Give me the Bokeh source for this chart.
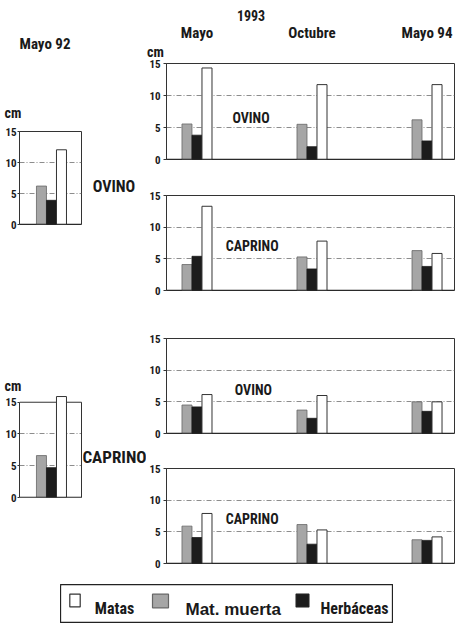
from bokeh.plotting import figure
from bokeh.layouts import column, row, Spacer
from bokeh.models import (FixedTicker, Legend, LegendItem, ColumnDataSource,
                          Span, Range1d)
from bokeh.core.properties import value
from bokeh.transform import dodge
from bokeh.embed import file_html
from bokeh.resources import INLINE

# ---------------- data ----------------
groups = ["Mayo", "Octubre", "Mayo 94"]
gx = [0, 1, 2]
year_label = "1993"
first_label = "Mayo 92"
species = ["OVINO", "CAPRINO"]

ovino_a_matas = [14.3, 11.7, 11.7]
ovino_a_muerta = [5.55, 5.5, 6.2]
ovino_a_herb = [3.8, 2.0, 2.9]

caprino_a_matas = [13.3, 7.8, 5.85]
caprino_a_muerta = [4.1, 5.3, 6.3]
caprino_a_herb = [5.4, 3.4, 3.8]

ovino_b_matas = [6.15, 6.0, 5.0]
ovino_b_muerta = [4.5, 3.7, 5.0]
ovino_b_herb = [4.2, 2.4, 3.5]

caprino_b_matas = [7.9, 5.3, 4.2]
caprino_b_muerta = [5.9, 6.15, 3.75]
caprino_b_herb = [4.1, 3.05, 3.65]

may92_ovino_matas = [12.05]
may92_ovino_muerta = [6.2]
may92_ovino_herb = [3.9]

may92_caprino_matas = [15.9]
may92_caprino_muerta = [6.6]
may92_caprino_herb = [4.7]

yticks = [0, 5, 10, 15]
legend_labels = ["Matas", "Mat. muerta", "Herbáceas"]

# ---------------- style ----------------
FONT = "Roboto Condensed"
FONT2 = "Liberation Sans"
GRAY = "#a6a6a6"
BLACK = "#1c1c1c"
EDGE = "#333333"
TXT = "#1a1a1a"
BW = 0.087


def base_fig(width, height, xr, yr, bl, br, bt, bb, outline=True, tick_out=3,
             standoff=3):
    p = figure(width=width, height=height, x_range=xr, y_range=yr,
               output_backend="svg", toolbar_location=None,
               min_border_left=bl, min_border_right=br,
               min_border_top=bt, min_border_bottom=bb)
    p.xaxis.visible = False
    p.xgrid.visible = False
    p.ygrid.ticker = FixedTicker(ticks=[5, 10])
    p.ygrid.grid_line_color = "#808080"
    p.ygrid.grid_line_dash = "5 2 1 2"
    p.ygrid.grid_line_width = 0.9
    ax = p.yaxis[0]
    ax.ticker = FixedTicker(ticks=yticks)
    ax.major_label_text_font = FONT
    ax.major_label_text_font_style = "bold"
    ax.major_label_text_font_size = "11px"
    ax.major_label_text_color = TXT
    ax.major_tick_in = 0
    ax.major_tick_out = tick_out
    ax.major_tick_line_color = EDGE
    ax.minor_tick_line_color = None
    ax.major_label_standoff = standoff
    ax.axis_line_color = EDGE
    if outline:
        p.outline_line_color = EDGE
        p.outline_line_width = 1
        p.outline_line_alpha = 1
    else:
        p.outline_line_color = None
    p.add_layout(Span(location=0, dimension="width", line_color="#222222",
                      line_width=1.6))
    return p


def bars(p, x, muerta, herb, matas):
    src = ColumnDataSource(dict(x=x, muerta=muerta, herb=herb, matas=matas))
    p.vbar(x=dodge("x", -BW, range=None), top="muerta", width=BW, source=src,
           fill_color=GRAY, line_color="#666666", line_width=0.8)
    p.vbar(x=dodge("x", 0, range=None), top="herb", width=BW, source=src,
           fill_color=BLACK, line_color=BLACK, line_width=0.8)
    p.vbar(x=dodge("x", BW, range=None), top="matas", width=BW, source=src,
           fill_color="white", line_color=EDGE, line_width=1)


def text_fig(width, height, xr, yr):
    p = figure(width=width, height=height, x_range=xr, y_range=yr,
               output_backend="svg", toolbar_location=None, min_border=0,
               frame_align=False)
    p.axis.visible = False
    p.grid.visible = False
    p.outline_line_color = None
    return p


def put_text(p, xs, ys, texts, size, font=FONT, align="center"):
    p.text(x=xs, y=ys, text=texts, text_font=value(font), text_font_style="bold",
           text_font_size=size, text_align=align, text_baseline="middle",
           text_color=TXT)


def panel_label(p, x, y, text, size="14px"):
    put_text(p, [x], [y], [text], size)


# ---------------- right column (x 146..463) ----------------
RW = 317
RX0, RX1 = -0.265, 2.239          # frame 166..454 px, 115 px per group
rx = Range1d(RX0, RX1)

rhead = text_fig(RW, 58, Range1d(-0.4391, 2.3174), Range1d(58, 0))
put_text(rhead, [0.47], [15], [year_label], "14px")
put_text(rhead, gx, [32] * len(gx), groups, "15px")
put_text(rhead, [-0.361], [51], ["cm"], "14px")

r1 = base_fig(RW, 119, rx, Range1d(0, 15), 20, 9, 5, 18)
bars(r1, gx, ovino_a_muerta, ovino_a_herb, ovino_a_matas)
panel_label(r1, 0.47, 6.55, species[0])

r2 = base_fig(RW, 143, rx, Range1d(0, 15), 20, 9, 18, 30)
bars(r2, gx, caprino_a_muerta, caprino_a_herb, caprino_a_matas)
panel_label(r2, 0.48, 7.1, species[1])

r3 = base_fig(RW, 130, rx, Range1d(0, 15), 20, 9, 18, 17)
bars(r3, gx, ovino_b_muerta, ovino_b_herb, ovino_b_matas)
panel_label(r3, 0.49, 6.8, species[0])

r4 = base_fig(RW, 130, rx, Range1d(0, 15), 20, 9, 18, 17)
bars(r4, gx, caprino_b_muerta, caprino_b_herb, caprino_b_matas)
panel_label(r4, 0.48, 6.95, species[1])

right_col = column(rhead, r1, r2, r3, r4)

# ---------------- left column (x 0..146) ----------------
LX0 = -0.278                      # frame starts 19 px, group centre at 51 px

lhead1 = text_fig(146, 124, Range1d(0, 146), Range1d(124, 0))
put_text(lhead1, [44.5], [43], [first_label], "15px")
put_text(lhead1, [12.5], [112], ["cm"], "14px")

l1 = base_fig(82, 116, Range1d(LX0, LX0 + 62 / 115), Range1d(0, 15), 19, 1, 7, 16,
              tick_out=2, standoff=1)
bars(l1, [0], may92_ovino_muerta, may92_ovino_herb, may92_ovino_matas)
lt1 = text_fig(64, 116, Range1d(82, 146), Range1d(240, 124))
put_text(lt1, [113.5], [186], [species[0]], "16px")

lhead2 = text_fig(146, 153, Range1d(0, 146), Range1d(393, 240))
put_text(lhead2, [12.5], [385], ["cm"], "14px")

L2TOP = 16.22
l2 = base_fig(82, 124, Range1d(LX0, LX0 + 63 / 115), Range1d(0, L2TOP), 19, 0, 1, 20,
              outline=False, tick_out=2, standoff=1)
l2.yaxis[0].bounds = (0, 15)
l2.quad(left=LX0, right=LX0 + 62 / 115, bottom=0, top=yticks[-1],
        fill_color=None, line_color=EDGE, line_width=1)
bars(l2, [0], may92_caprino_muerta, may92_caprino_herb, may92_caprino_matas)
lt2 = text_fig(64, 124, Range1d(82, 146), Range1d(517, 393))
put_text(lt2, [114], [456], [species[1]], "17px")

left_col = column(lhead1, row(l1, lt1), lhead2, row(l2, lt2))

# ---------------- legend (box x 60..393, y 584..623) ----------------
lg = figure(width=333, height=39, x_range=Range1d(0, 333), y_range=Range1d(39, 0),
            output_backend="svg", toolbar_location=None, min_border=0,
            frame_align=False)
lg.axis.visible = False
lg.grid.visible = False
lg.outline_line_color = "#222222"
lg.outline_line_width = 1.3
dummy = ColumnDataSource(dict(x=[-100], top=[1]))
rw = lg.vbar(x="x", top="top", width=1, source=dummy, fill_color="white",
             line_color=EDGE, line_width=1.2)
rg = lg.vbar(x="x", top="top", width=1, source=dummy, fill_color=GRAY,
             line_color="#666666", line_width=1.2)
rb = lg.vbar(x="x", top="top", width=1, source=dummy, fill_color=BLACK,
             line_color=BLACK, line_width=1.2)

# swatches: Legend objects; their labels are written as text next to them
specs = [(rw, 8.3, 13, 16), (rg, 90, 20, 17), (rb, 234.3, 16, 16)]
for (rend, xloc, gw, gh) in specs:
    leg = Legend(items=[LegendItem(label=" ", renderers=[rend])],
                 location=(xloc, 4.4), orientation="horizontal",
                 border_line_color=None, background_fill_alpha=0,
                 padding=0, margin=0, spacing=0,
                 glyph_width=gw, glyph_height=gh, label_standoff=0,
                 label_height=37, label_width=1,
                 label_text_font_size="1px")
    lg.add_layout(leg)

put_text(lg, [34.3], [24], [legend_labels[0]], "16px", align="left")
put_text(lg, [125], [24.5], [legend_labels[1]], "17px", font=FONT2, align="left")
put_text(lg, [260], [24], [legend_labels[2]], "16px", align="left")

layout = column(row(left_col, right_col), Spacer(height=4),
                row(Spacer(width=60), lg))

open("out.html", "w").write(file_html(layout, INLINE))
